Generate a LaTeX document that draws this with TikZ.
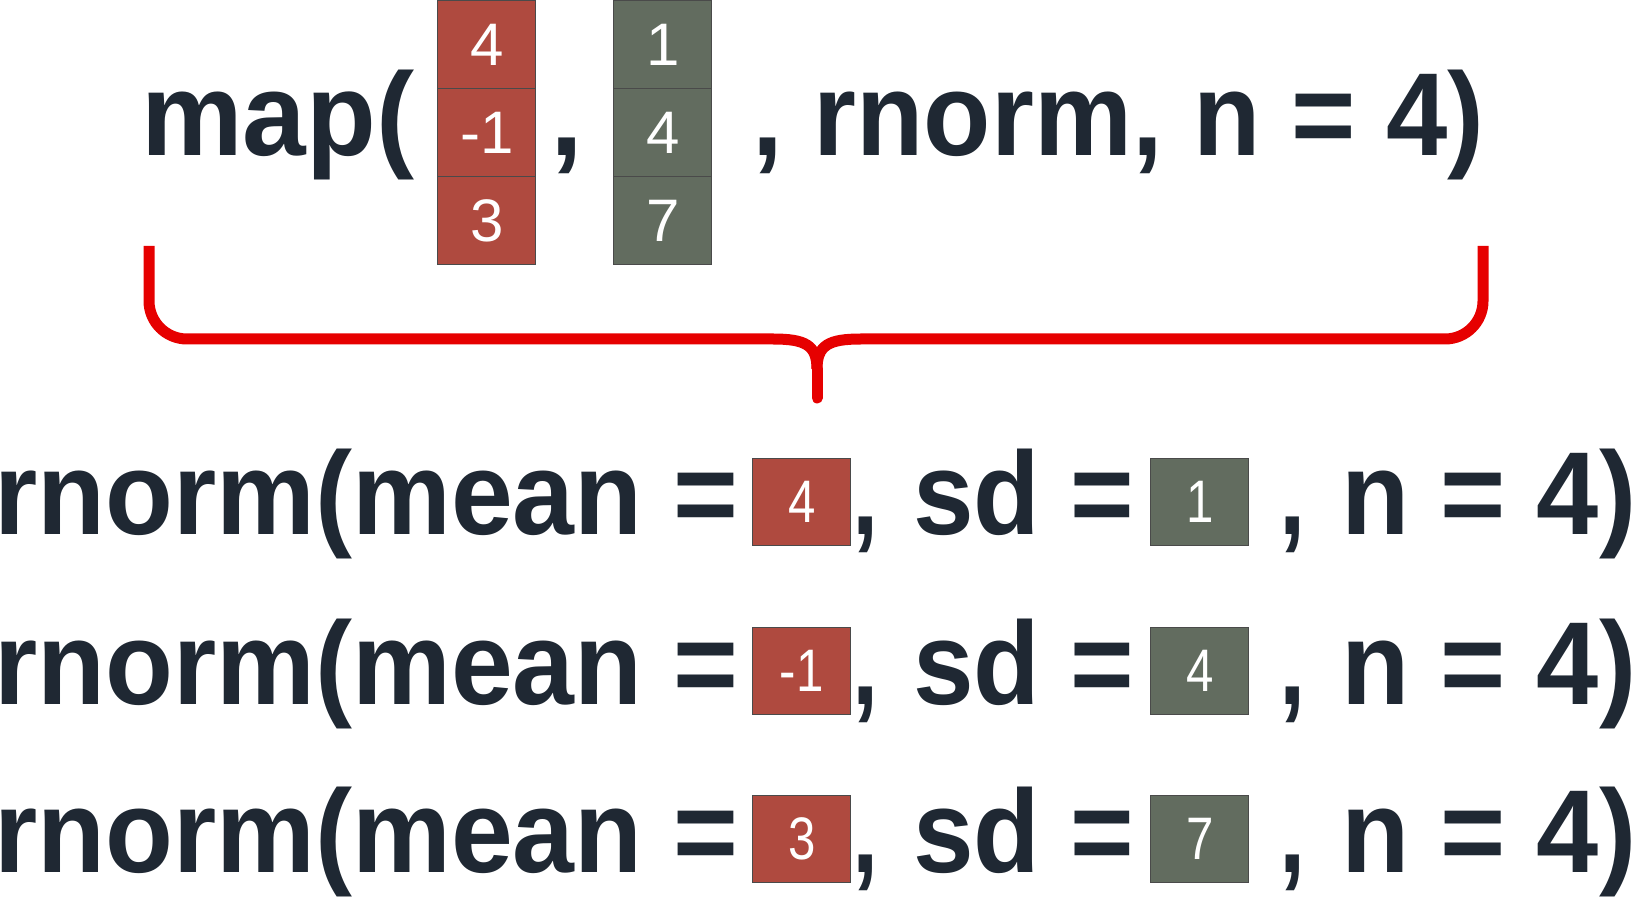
\documentclass[tikz,border=0pt]{standalone}
\usepackage{fontspec}
\usepackage{graphicx}
\setmainfont{Liberation Sans}
\definecolor{ink}{HTML}{1F2833}
\definecolor{redbox}{HTML}{AF4A3F}
\definecolor{greybox}{HTML}{626C5F}
\definecolor{cellborder}{HTML}{4A4A4A}
\definecolor{bracered}{HTML}{E60000}
\newcommand{\fitw}[2]{\resizebox{#1}{\height}{#2}}
\tikzset{
  code/.style={anchor=base west, inner sep=0pt, text=ink, font=\fontsize{59}{60}\selectfont\bfseries},
  commanode/.style={anchor=base, inner sep=0pt, text=ink, font=\fontsize{59}{60}\selectfont\bfseries},
  cellbase/.style={draw=cellborder, line width=0.7pt, minimum width=49pt, inner sep=0pt, text=white, font=\fontsize{30}{32}\selectfont, anchor=north west},
  topred/.style={cellbase, fill=redbox, minimum height=44pt},
  topgrey/.style={cellbase, fill=greybox, minimum height=44pt},
  lowred/.style={cellbase, fill=redbox, minimum height=43.5pt},
  lowgrey/.style={cellbase, fill=greybox, minimum height=43.5pt},
  bracestyle/.style={draw=bracered, line width=5.5pt}
}
\begin{document}
\begin{tikzpicture}[x=0.5pt, y=-0.5pt]
\useasboundingbox (0,0) rectangle (1632,897);
% top row
\node[code] (map) at (141,156) {\fitw{136.5pt}{map(}};
\node[topred] (r1) at (437,0) {4};
\node[topred] (r2) at (437,88) {-1};
\node[topred] (r3) at (437,176) {3};
\node[commanode] (c0) at (567,156) {,};
\node[topgrey] (g1) at (613,0) {1};
\node[topgrey] (g2) at (613,88) {4};
\node[topgrey] (g3) at (613,176) {7};
\node[code] (rest) at (752,156) {\fitw{366pt}{, rnorm, n = 4)}};
% brace
\coordinate (bl) at (149,246);
\coordinate (br) at (1483,246);
\coordinate (bc) at (817,369);
\coordinate (tip) at (817,398);
\draw[bracestyle, rounded corners=19pt] (bl) -- (149,339) -- (773,339);
\draw[bracestyle, rounded corners=19pt] (br) -- (1483,339) -- (861,339);
\draw[bracestyle] (773,339) .. controls (805,339) and (817,345) .. (bc);
\draw[bracestyle] (861,339) .. controls (829,339) and (817,345) .. (bc);
\draw[bracestyle, line cap=round] (bc) -- (tip);
% lower rows
\foreach \b/\m/\s/\i in {535/4/1/1, 704/-1/4/2, 872/3/7/3}{
  \node[code] (a\i) at (-6,\b) {\fitw{372pt}{rnorm(mean =}};
  \node[lowred] (m\i) at (752,\b-77) {\scalebox{0.82}[1]{\m}};
  \node[commanode] (k\i) at (866,\b) {\scalebox{0.8}[1]{,}};
  \node[code] (s\i) at (913,\b) {\fitw{110.5pt}{sd =}};
  \node[lowgrey] (d\i) at (1150,\b-77) {\scalebox{0.82}[1]{\s}};
  \node[commanode] (q\i) at (1293,\b) {\scalebox{0.8}[1]{,}};
  \node[code] (n\i) at (1341,\b) {\fitw{147.5pt}{n = 4)}};
}
\end{tikzpicture}
\end{document}
